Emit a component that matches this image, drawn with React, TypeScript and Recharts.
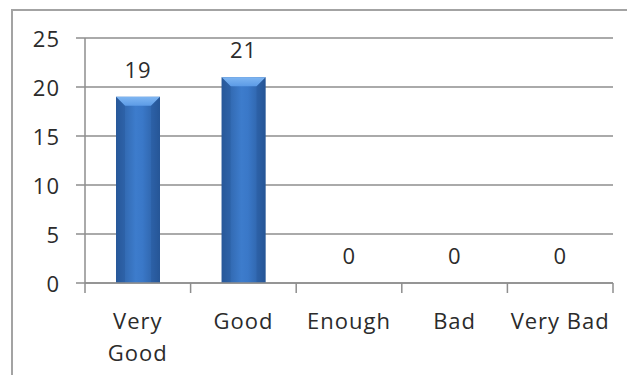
import React from "react";
import { BarChart, Bar, XAxis, YAxis, CartesianGrid, LabelList } from "recharts";

const categories = ["Very Good", "Good", "Enough", "Bad", "Very Bad"];
const counts = [19, 21, 0, 0, 0];
const yTicks = [0, 5, 10, 15, 20, 25];
const xTickLines = [["Very", "Good"], ["Good"], ["Enough"], ["Bad"], ["Very Bad"]];

const data = categories.map((c, i) => ({ name: c, value: counts[i], idx: i }));

const W = 635;
const H = 383;
const M = { top: 38, right: 22, left: 0, bottom: 0 };
const YAXIS_W = 85;
const PLOT_W = W - YAXIS_W - M.right;
const BAND = PLOT_W / categories.length;
const FONT = "'Open Sans', sans-serif";
const TEXT = "#2b2b2b";
const GRID = "#8e8e8e";
const FS = 22;
const LS = 1;

const XTick = (props: any) => {
  const { x, y, index } = props;
  const lines = xTickLines[index] || [String(props.payload?.value)];
  return (
    <g>
      <line x1={x - BAND / 2} x2={x - BAND / 2} y1={y} y2={y + 10} stroke={GRID} strokeWidth={1.5} />
      {index === categories.length - 1 && (
        <line x1={x + BAND / 2} x2={x + BAND / 2} y1={y} y2={y + 10} stroke={GRID} strokeWidth={1.5} />
      )}
      {lines.map((l: string, i: number) => (
        <text
          key={i}
          x={x}
          y={y + 46 + i * 32}
          textAnchor="middle"
          fontFamily={FONT}
          fontSize={FS}
          letterSpacing={LS}
          fill={TEXT}
        >
          {l}
        </text>
      ))}
    </g>
  );
};

const BevelBar = (props: any) => {
  const { x, y, width, height } = props;
  if (!height || height <= 0) return null;
  const b = Math.min(9, height / 2);
  return (
    <g>
      <rect x={x} y={y} width={width} height={height} fill="url(#barGrad)" />
      <polygon
        points={`${x},${y} ${x + width},${y} ${x + width - b},${y + b} ${x + b},${y + b}`}
        fill="url(#bevelGrad)"
      />
      <polygon points={`${x},${y} ${x + b},${y + b} ${x + b},${y + height} ${x},${y + height}`} fill="#1f4c8a" opacity={0.25} />
      <polygon
        points={`${x + width},${y} ${x + width - b},${y + b} ${x + width - b},${y + height} ${x + width},${y + height}`}
        fill="#1f4c8a"
        opacity={0.25}
      />
    </g>
  );
};

export default function App() {
  return (
    <div style={{ position: "relative", margin: -8, width: W, height: H, overflow: "hidden", background: "#fff" }}>
      <div
        style={{
          position: "absolute",
          left: 11,
          top: 9,
          width: 800,
          height: 600,
          border: "2px solid #a3a3a3",
        }}
      />
      <div style={{ position: "absolute", left: 0, top: 0 }}>
        <BarChart width={W} height={H} data={data} margin={M} barSize={44}>
          <defs>
            <linearGradient id="barGrad" x1="0" y1="0" x2="1" y2="0">
              <stop offset="0%" stopColor="#2a5c9e" />
              <stop offset="45%" stopColor="#3d7ccc" />
              <stop offset="60%" stopColor="#3a78c8" />
              <stop offset="100%" stopColor="#28599a" />
            </linearGradient>
            <linearGradient id="bevelGrad" x1="0" y1="0" x2="0" y2="1">
              <stop offset="0%" stopColor="#7fb6f2" />
              <stop offset="100%" stopColor="#5c9be6" />
            </linearGradient>
          </defs>
          <CartesianGrid horizontal vertical={false} stroke={GRID} strokeWidth={1.5} />
          <XAxis
            dataKey="name"
            height={H - 283 - M.bottom}
            interval={0}
            tickLine={false}
            tickSize={0}
            tickMargin={0}
            axisLine={{ stroke: GRID, strokeWidth: 1.5 }}
            tick={<XTick />}
          />
          <YAxis
            width={YAXIS_W}
            domain={[0, 25]}
            ticks={yTicks}
            interval={0}
            tickSize={9}
            tickMargin={16}
            tickLine={{ stroke: GRID, strokeWidth: 1.5 }}
            axisLine={{ stroke: GRID, strokeWidth: 1.5 }}
            tick={{ fontFamily: FONT, fontSize: FS, fill: TEXT, dy: 1, letterSpacing: LS }}
          />
          <Bar dataKey="value" isAnimationActive={false} shape={<BevelBar />}>
            <LabelList
              dataKey="value"
              position="top"
              offset={19}
              fontFamily={FONT}
              fontSize={FS}
              letterSpacing={LS}
              fill={TEXT}
            />
          </Bar>
        </BarChart>
      </div>
    </div>
  );
}
